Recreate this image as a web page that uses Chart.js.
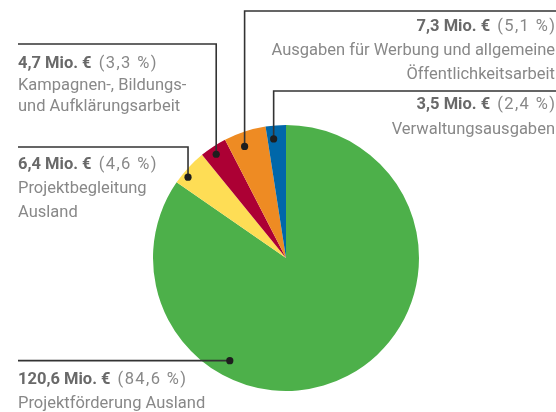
<!DOCTYPE html>
<html><head><meta charset="utf-8">
<script src="https://cdn.jsdelivr.net/npm/chart.js@4"></script>
<style>html,body{margin:0;padding:0;background:#fff}#wrap{width:556px;height:412px;position:relative}</style>
</head><body><div id="wrap"><canvas id="c" width="556" height="412"></canvas></div>
<script>
// ---- data ----
const categories = ["Projektförderung Ausland","Projektbegleitung Ausland","Kampagnen-, Bildungs- und Aufklärungsarbeit","Ausgaben für Werbung und allgemeine Öffentlichkeitsarbeit","Verwaltungsausgaben"];
const valuesMio = [120.6, 6.4, 4.7, 7.3, 3.5];
const percentLabels = ["84,6","4,6","3,3","5,1","2,4"];
const labelLines = [["Projektförderung Ausland"],["Projektbegleitung","Ausland"],["Kampagnen-, Bildungs-","und Aufklärungsarbeit"],["Ausgaben für Werbung und allgemeine","Öffentlichkeitsarbeit"],["Verwaltungsausgaben"]];
const sliceColors = ["#4db04a","#fedd55","#ac0034","#ee8b23","#0067a9"];

// ---- callout layout (positions only) ----
const callouts = [
  {t:0.685, rf:0.88, lineY:null, lineX:18, textX:18, align:'left', y0:384, lh:24},
  {t:0.30, rf:0.955, lineY:147, lineX:18, textX:18, align:'left', y0:169, lh:24},
  {t:0.44, rf:0.94, lineY:44, lineX:18, textX:18, align:'left', y0:68, lh:21.5},
  {t:0.376, rf:0.895, lineY:11, lineX:556, textX:555, align:'right', y0:31, lh:24},
  {t:0.33, rf:0.9, lineY:91, lineX:556, textX:555, align:'right', y0:109, lh:25}
];
const FONT = "Roboto";
const FS = 16.5;

const calloutPlugin = {
  id:'callouts',
  afterDraw(chart){
    const ctx = chart.ctx;
    const meta = chart.getDatasetMeta(0);
    meta.data.forEach((arc,i)=>{
      const c = callouts[i];
      const p = arc.getProps(['x','y','startAngle','endAngle','outerRadius'], true);
      const a = p.startAngle + c.t*(p.endAngle-p.startAngle);
      const dx = p.x + Math.cos(a)*c.rf*p.outerRadius;
      const dy = p.y + Math.sin(a)*c.rf*p.outerRadius;
      const ly = c.lineY==null ? dy : c.lineY;
      ctx.save();
      ctx.strokeStyle = '#333';
      ctx.lineWidth = 1.6;
      ctx.beginPath();
      ctx.moveTo(c.lineX, ly);
      ctx.lineTo(dx, ly);
      ctx.lineTo(dx, dy);
      ctx.stroke();
      ctx.fillStyle = '#1e1e1e';
      ctx.beginPath();
      ctx.arc(dx, dy, 3.6, 0, Math.PI*2);
      ctx.fill();
      // text
      const bold = valuesMio[i].toLocaleString('de-DE',{minimumFractionDigits:1}) + ' Mio. € ';
      const norm = '(' + percentLabels[i] + ' %)';
      ctx.textBaseline = 'alphabetic';
      ctx.textAlign = 'left';
      ctx.font = 'bold ' + FS + 'px ' + FONT;
      ctx.letterSpacing = '0px';
      const wb = ctx.measureText(bold).width + 3;
      ctx.font = FS + 'px ' + FONT;
      ctx.letterSpacing = '1.4px';
      const wn = ctx.measureText(norm).width;
      let x = c.align==='left' ? c.textX : c.textX - wb - wn + 1.4;
      ctx.font = 'bold ' + FS + 'px ' + FONT;
      ctx.letterSpacing = '0px';
      ctx.fillStyle = '#696969';
      ctx.fillText(bold, x, c.y0);
      ctx.font = FS + 'px ' + FONT;
      ctx.letterSpacing = '1.4px';
      ctx.fillStyle = '#888';
      ctx.fillText(norm, x+wb, c.y0);
      ctx.letterSpacing = '0px';
      ctx.textAlign = c.align;
      labelLines[i].forEach((ln,k)=>{
        ctx.fillText(ln, c.textX, c.y0 + (k+1)*c.lh);
      });
      ctx.restore();
    });
  }
};

new Chart(document.getElementById('c'), {
  type:'pie',
  data:{labels:categories, datasets:[{data:valuesMio, backgroundColor:sliceColors, borderWidth:0}]},
  options:{
    responsive:false, animation:false, devicePixelRatio:1,
    layout:{padding:{left:153,right:137,top:125,bottom:21}},
    plugins:{legend:{display:false}, tooltip:{enabled:false}}
  },
  plugins:[calloutPlugin]
});
</script></body></html>
